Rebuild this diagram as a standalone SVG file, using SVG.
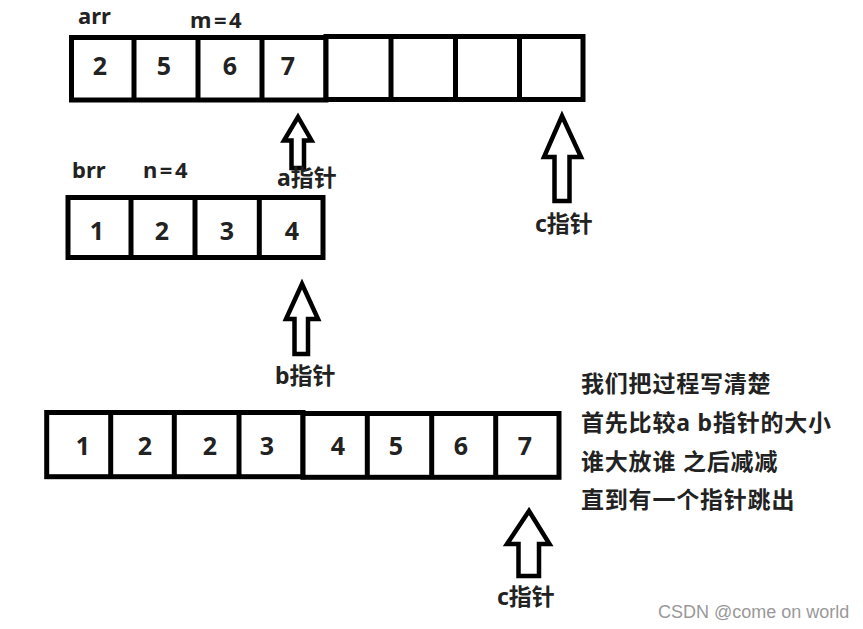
<svg xmlns="http://www.w3.org/2000/svg" width="863" height="629" viewBox="0 0 863 629">
<style>
.box{fill:#fff;stroke:#000;stroke-width:5}
.div{stroke:#000;stroke-width:5}
.num{font-family:"Noto Sans","Noto Sans CJK SC",sans-serif;font-weight:bold;font-size:25px;fill:#222;text-anchor:middle}
.lbl{font-family:"Noto Sans","Noto Sans CJK SC",sans-serif;font-weight:bold;font-size:22px;fill:#222}
.eq{letter-spacing:2.5px}
.ptr{font-family:"Noto Sans","Noto Sans CJK SC",sans-serif;font-weight:bold;font-size:23px;fill:#222}
.note{font-family:"Noto Sans","Noto Sans CJK SC",sans-serif;font-weight:bold;font-size:23px;fill:#222;letter-spacing:0.8px}
.arrow{fill:#fff;stroke:#000;stroke-width:4.5;stroke-linejoin:miter}
.wm{font-family:"Liberation Sans",Arial,sans-serif;font-size:18px;fill:#999}
</style>
<rect width="863" height="629" fill="#fff"/>

<g id="arr">
  <rect class="box" x="71.5" y="37.5" width="254.5" height="62.5"/>
  <line class="div" x1="134" y1="37.5" x2="134" y2="100"/>
  <line class="div" x1="198" y1="37.5" x2="198" y2="100"/>
  <line class="div" x1="262" y1="37.5" x2="262" y2="100"/>
  <rect class="box" x="326" y="36.5" width="257" height="63"/>
  <line class="div" x1="391" y1="36.5" x2="391" y2="99.5"/>
  <line class="div" x1="455.5" y1="36.5" x2="455.5" y2="99.5"/>
  <line class="div" x1="519.5" y1="36.5" x2="519.5" y2="99.5"/>
  <text class="num" x="100" y="75">2</text>
  <text class="num" x="164" y="75">5</text>
  <text class="num" x="230" y="75">6</text>
  <text class="num" x="288" y="75">7</text>
  <text class="lbl" x="78" y="24">arr</text>
  <text class="lbl eq" x="190" y="28">m=4</text>
</g>

<g id="brr">
  <rect class="box" x="68" y="197.5" width="255" height="60"/>
  <line class="div" x1="131" y1="197.5" x2="131" y2="257.5"/>
  <line class="div" x1="195" y1="197.5" x2="195" y2="257.5"/>
  <line class="div" x1="259.3" y1="197.5" x2="259.3" y2="257.5"/>
  <text class="num" x="97" y="240">1</text>
  <text class="num" x="162" y="240">2</text>
  <text class="num" x="227" y="240">3</text>
  <text class="num" x="292" y="240">4</text>
  <text class="lbl" x="72" y="178">brr</text>
  <text class="lbl eq" x="143" y="178">n=4</text>
</g>

<g id="merged">
  <rect class="box" x="46.7" y="412.5" width="256.3" height="64.2"/>
  <line class="div" x1="110.7" y1="412.5" x2="110.7" y2="476.7"/>
  <line class="div" x1="174.3" y1="412.5" x2="174.3" y2="476.7"/>
  <line class="div" x1="239" y1="412.5" x2="239" y2="476.7"/>
  <rect class="box" x="303" y="413.5" width="256" height="63.8"/>
  <line class="div" x1="367.3" y1="413.5" x2="367.3" y2="477.3"/>
  <line class="div" x1="431.7" y1="413.5" x2="431.7" y2="477.3"/>
  <line class="div" x1="495.7" y1="413.5" x2="495.7" y2="477.3"/>
  <text class="num" x="83" y="455">1</text>
  <text class="num" x="145" y="455">2</text>
  <text class="num" x="210" y="455">2</text>
  <text class="num" x="267" y="455">3</text>
  <text class="num" x="338" y="455">4</text>
  <text class="num" x="396" y="455">5</text>
  <text class="num" x="461" y="455">6</text>
  <text class="num" x="525" y="455">7</text>
</g>

<g id="connectors">
  <polygon class="arrow" points="298,117 311.5,140.5 304,140.5 304,168 291.5,168 291.5,140.5 284,140.5"/>
  <polygon class="arrow" points="562,116 581,157 569.5,157 569.5,201 554.5,201 554.5,157 544,157"/>
  <polygon class="arrow" points="302,284 318,319 308,319 308,354 294.5,354 294.5,319 286,319"/>
  <polygon class="arrow" points="529,511 549.5,544 539,544 539,576 518.5,576 518.5,544 507,544"/>
</g>

<g id="pointer-labels">
  <text class="ptr" x="277" y="186">a指针</text>
  <text class="ptr" x="535" y="232">c指针</text>
  <text class="ptr" x="275" y="384">b指针</text>
  <text class="ptr" x="497" y="605">c指针</text>
</g>

<g id="notes">
  <text class="note" x="581" y="392">我们把过程写清楚</text>
  <text class="note" x="581" y="431">首先比较a b指针的大小</text>
  <text class="note" x="581" y="470">谁大放谁 之后减减</text>
  <text class="note" x="581" y="508">直到有一个指针跳出</text>
</g>

<text class="wm" x="658" y="618">CSDN @come on world</text>
</svg>
